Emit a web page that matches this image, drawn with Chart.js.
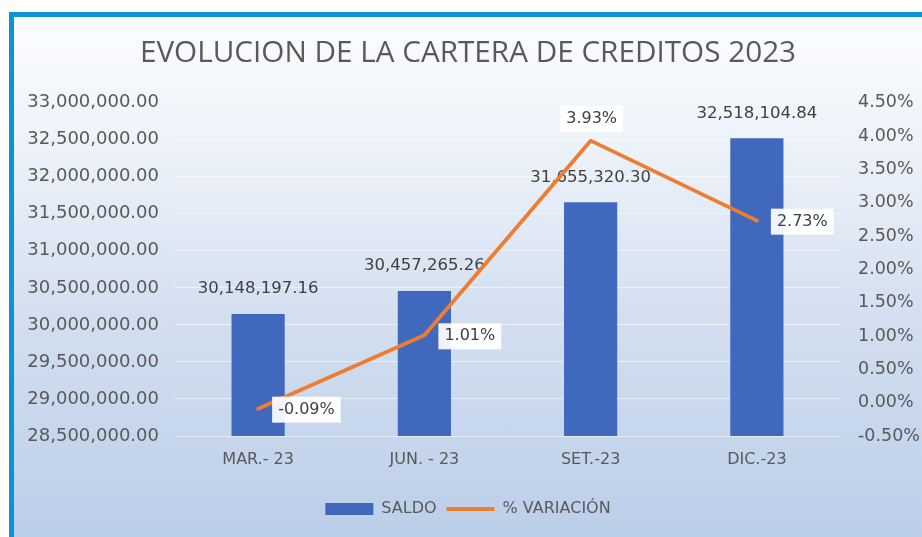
<!DOCTYPE html>
<html>
<head>
<meta charset="utf-8">
<script src="https://cdn.jsdelivr.net/npm/chart.js@4/dist/chart.umd.min.js"></script>
<style>
  html, body { margin: 0; padding: 0; background: #ffffff; width: 922px; height: 537px; overflow: hidden; }
  #frame { position: absolute; left: 9px; top: 12px; width: 913px; height: 525px;
    border-top: 5px solid #0a94d7; border-left: 5px solid #0a94d7; box-sizing: border-box;
    background: linear-gradient(to bottom, #fbfcfe 0%, #eff4fa 22%, #d3dff0 58%, #bbcee9 100%); }
  #c { position: absolute; left: 0; top: 0; }
</style>
</head>
<body>
<div id="frame"></div>
<canvas id="c" width="922" height="537"></canvas>
<script>
const categories = ['MAR.- 23', 'JUN. - 23', 'SET.-23', 'DIC.-23'];
const saldo = [30148197.16, 30457265.26, 31655320.30, 32518104.84];
const variacion = [-0.09, 1.01, 3.93, 2.73];
const leftTicks = [28500000, 29000000, 29500000, 30000000, 30500000, 31000000, 31500000, 32000000, 32500000, 33000000];
const rightTicks = [-0.5, 0, 0.5, 1, 1.5, 2, 2.5, 3, 3.5, 4, 4.5];
const pctLabelPos = ['right', 'right', 'above', 'right'];

const NUM_FONT = 'DejaVu Sans';
const fmtMoney = v => v.toLocaleString('en-US', { minimumFractionDigits: 2, maximumFractionDigits: 2 });
const fmtPct = v => v.toFixed(2) + '%';

const labelPlugin = {
  id: 'labels',
  afterDatasetDraw(chart, args) {
    const ctx = chart.ctx;
    if (args.index === 0) {
      const meta = chart.getDatasetMeta(0);
      ctx.save();
      ctx.font = '16.5px "' + NUM_FONT + '"';
      ctx.fillStyle = '#404040';
      ctx.textAlign = 'center';
      ctx.textBaseline = 'middle';
      meta.data.forEach((bar, i) => {
        ctx.fillText(fmtMoney(saldo[i]), bar.x, bar.y - 25);
      });
      ctx.restore();
    }
  },
  afterDatasetsDraw(chart) {
    const ctx = chart.ctx;
    const meta = chart.getDatasetMeta(1);
    ctx.save();
    ctx.font = '16px "' + NUM_FONT + '"';
    ctx.textBaseline = 'middle';
    meta.data.forEach((pt, i) => {
      const txt = fmtPct(variacion[i]);
      const w = ctx.measureText(txt).width;
      let bx, cy;
      if (pctLabelPos[i] === 'above') {
        bx = pt.x - w / 2 - 5;
        cy = pt.y - 22;
      } else {
        bx = pt.x + 14;
        cy = pt.y + 1;
      }
      ctx.fillStyle = 'rgba(255,255,255,0.92)';
      ctx.fillRect(bx, cy - 13, w + 12, 26);
      ctx.fillStyle = '#404040';
      ctx.textAlign = 'left';
      ctx.fillText(txt, bx + 6, cy);
    });
    ctx.restore();
  }
};

new Chart(document.getElementById('c'), {
  data: {
    labels: categories,
    datasets: [
      {
        type: 'bar', label: 'SALDO', data: saldo, yAxisID: 'y', order: 1,
        backgroundColor: '#4069bd', borderWidth: 0,
        categoryPercentage: 1, barPercentage: 0.32,
        pointStyle: 'rect'
      },
      {
        type: 'line', label: '% VARIACIÓN', data: variacion, yAxisID: 'y1', order: 0,
        borderColor: '#ed7d31', backgroundColor: '#ed7d31', borderWidth: 3.8,
        pointRadius: 0, tension: 0, borderCapStyle: 'round', borderJoinStyle: 'round',
        pointStyle: 'line'
      }
    ]
  },
  options: {
    responsive: false,
    animation: false,
    devicePixelRatio: 1,
    layout: { padding: { left: 14, right: 0, top: 18, bottom: 10 } },
    plugins: {
      tooltip: { enabled: false },
      title: {
        display: true,
        text: 'EVOLUCION DE LA CARTERA DE CREDITOS 2023',
        color: '#595959',
        font: { family: 'Open Sans', size: 29.7, weight: 'normal' },
        padding: { top: 18, bottom: 31 }
      },
      legend: {
        position: 'bottom',
        labels: {
          usePointStyle: true,
          pointStyleWidth: 48,
          boxHeight: 12,
          padding: 10,
          color: '#595959',
          font: { family: NUM_FONT, size: 16 },
          sort: (a, b) => a.datasetIndex - b.datasetIndex
        }
      }
    },
    scales: {
      x: {
        grid: { display: false },
        border: { display: false },
        ticks: { color: '#595959', font: { family: NUM_FONT, size: 16 }, padding: 6 },
        afterFit: s => { s.height = 55; }
      },
      y: {
        position: 'left',
        min: 28500000, max: 33000000,
        afterBuildTicks: s => { s.ticks = leftTicks.map(v => ({ value: v })); },
        grid: { color: 'rgba(255,255,255,0.55)', lineWidth: 1, drawTicks: false },
        border: { display: false },
        ticks: { color: '#595959', font: { family: NUM_FONT, size: 18 }, padding: 16, callback: v => fmtMoney(v) },
        afterFit: s => { s.width = 161; }
      },
      y1: {
        position: 'right',
        min: -0.5, max: 4.5,
        afterBuildTicks: s => { s.ticks = rightTicks.map(v => ({ value: v })); },
        grid: { display: false, drawTicks: false },
        border: { display: false },
        ticks: { color: '#595959', font: { family: NUM_FONT, size: 17.5 }, padding: 18, callback: v => fmtPct(v) },
        afterFit: s => { s.width = 82; }
      }
    }
  },
  plugins: [labelPlugin]
});
</script>
</body>
</html>
